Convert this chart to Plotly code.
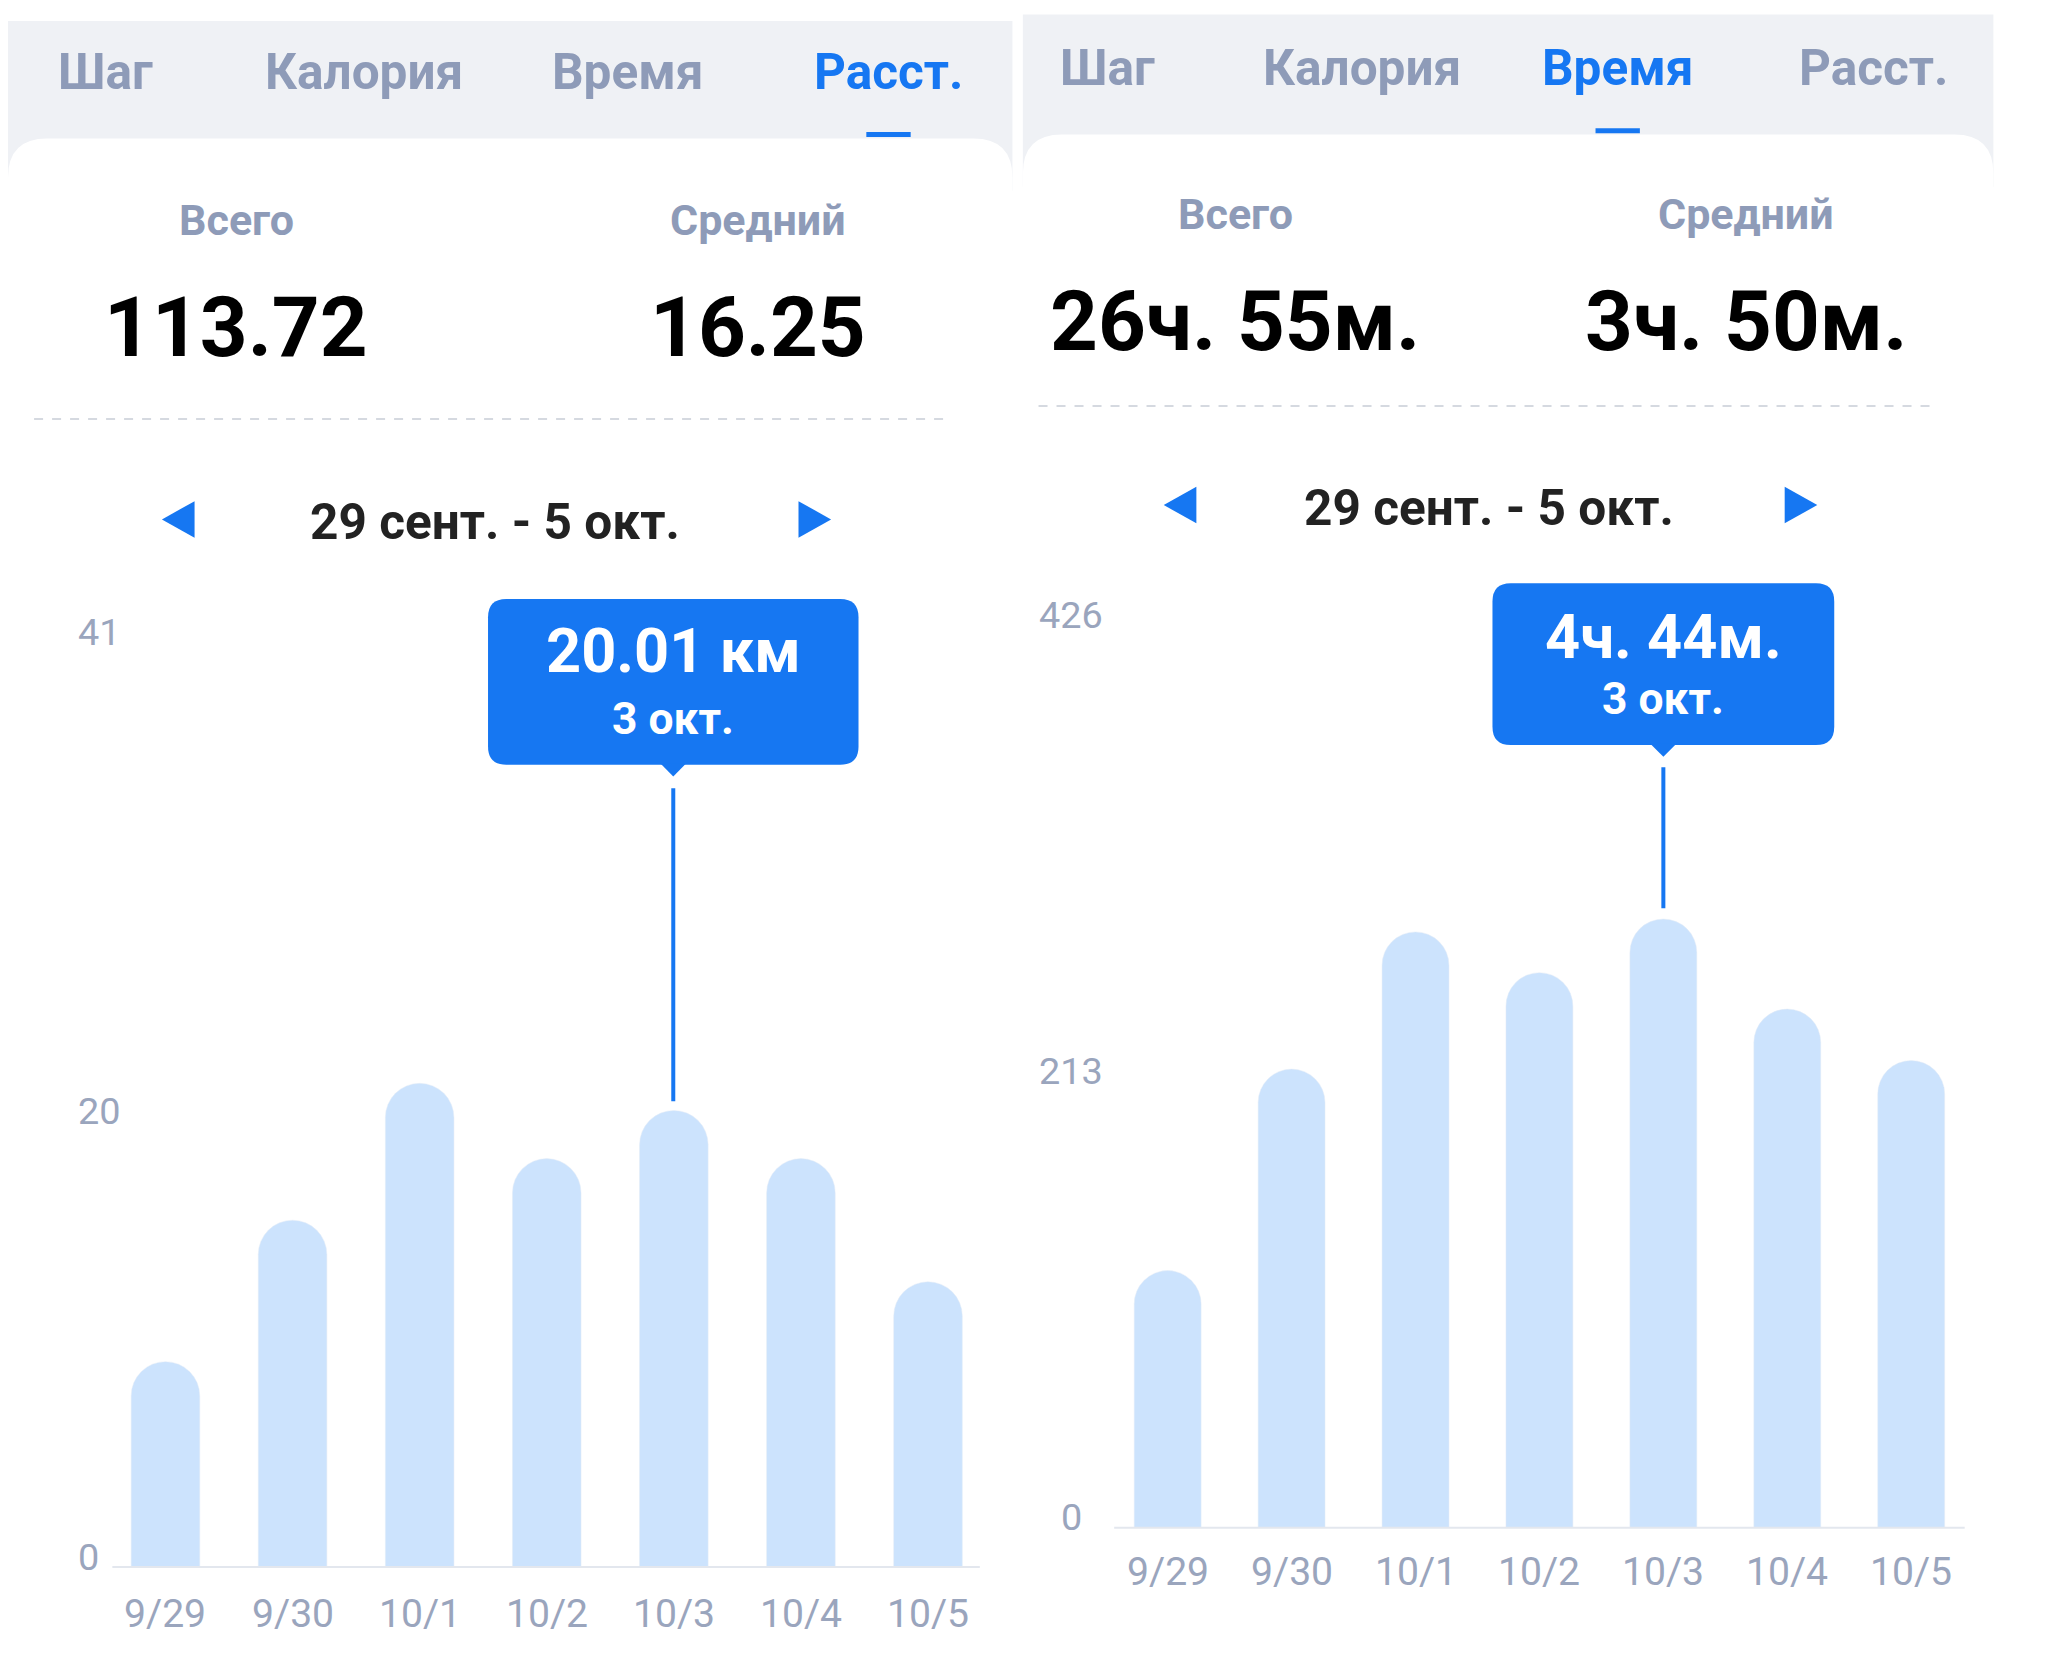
import plotly.graph_objects as go

days = ["9/29", "9/30", "10/1", "10/2", "10/3", "10/4", "10/5"]
dist_km = [9.0, 15.2, 21.2, 17.9, 20.01, 17.9, 12.5]
time_min = [120, 214, 278, 259, 284, 242, 218]
tabs = ["Шаг", "Калория", "Время", "Расст."]

W, H = 1570.0, 1287.0  # layout sketched in these units, scaled to the page
BLUE = "#1677f2"
BAR = "#cce3fd"
GRAY = "#8e9bb8"
TICK = "#9aa5bd"
FONT = "Roboto"
S = 2048 / W


def px(x, y):
    return x / W, 1 - y / H


def rrect(x0, y0, x1, y1, r, top_only=False):
    # rounded rectangle path in paper coords
    def p(x, y):
        a, b = px(x, y)
        return f"{a:.5f},{b:.5f}"
    rb = 0 if top_only else r
    return (f"M{p(x0, y0 + r)} Q{p(x0, y0)} {p(x0 + r, y0)} L{p(x1 - r, y0)} "
            f"Q{p(x1, y0)} {p(x1, y0 + r)} L{p(x1, y1 - rb)} Q{p(x1, y1)} {p(x1 - rb, y1)} "
            f"L{p(x0 + rb, y1)} Q{p(x0, y1)} {p(x0, y1 - rb)} Z")


def tri(pts):
    return "M" + " L".join("%.5f,%.5f" % px(x, y) for x, y in pts) + " Z"


fig = go.Figure()
fig.add_trace(go.Bar(x=days, y=dist_km, marker=dict(color=BAR, cornerradius="50%"),
                     width=0.54, xaxis="x", yaxis="y", hoverinfo="skip"))
fig.add_trace(go.Bar(x=days, y=time_min, marker=dict(color=BAR, cornerradius="50%"),
                     width=0.54, xaxis="x2", yaxis="y2", hoverinfo="skip"))

shapes, ann = [], []


def text(x, y, t, size, color, bold=False, xref="paper", yref="paper"):
    if xref == "paper":
        x = x / W
    if yref == "paper":
        y = 1 - y / H
    ann.append(dict(x=x, y=y, xref=xref, yref=yref, text=t, showarrow=False,
                    font=dict(family=FONT, size=size * S, color=color,
                              weight="bold" if bold else "normal"),
                    xanchor="center", yanchor="middle"))


panels = [
    dict(x0=0, x1=770, tabs_y=49, tab_x=[75, 273, 475, 675], active=3, top=10, card=100,
         lab_y=163, val_y=245, lab_x=[175, 575], vals=["113.72", "16.25"], dash_y=315,
         dash=(20, 722), nav_y=392, nav=(130, 618, 373), ax="x", ay="y",
         xd=(72, 754), yd=(1195, 478), yr=41, ticks=[(41, "41"), (20, "20"), (0, "0")],
         tick_x=52, base=(80, 745), xl_y=1250, sel=4, box=(368, 453, 652, 580),
         tip=["20.01 км", "3 окт."], tip_y=(493, 545), line=(598, 838)),
    dict(x0=778, x1=1522, tabs_y=46, tab_x=[843, 1038, 1234, 1430], active=2, top=5, card=97,
         lab_y=158, val_y=240, lab_x=[941, 1332], vals=["26ч. 55м.", "3ч. 50м."], dash_y=305,
         dash=(790, 1475), nav_y=381, nav=(898, 1374, 1135), ax="x2", ay="y2",
         xd=(841.5, 1506.5), yd=(1165, 465), yr=426, ticks=[(426, "426"), (213, "213"), (0, "0")],
         tick_x=815, base=(848, 1500), xl_y=1218, sel=4, box=(1138, 441, 1400, 565),
         tip=["4ч. 44м.", "3 окт."], tip_y=(482, 530), line=(582, 690)),
]

layout_axes = {}
for i, p in enumerate(panels):
    # tab bar and card
    x0, y0 = px(p["x0"], p["top"])
    x1, y1 = px(p["x1"], p["card"] + 40)
    shapes.append(dict(type="rect", xref="paper", yref="paper", x0=x0, y0=y1, x1=x1, y1=y0,
                       fillcolor="#eff1f5", line_width=0, layer="below"))
    shapes.append(dict(type="path", xref="paper", yref="paper", layer="below",
                       path=rrect(p["x0"], p["card"], p["x1"], H + 50, 30, top_only=True),
                       fillcolor="white", line_width=0))
    for k, (t, tx) in enumerate(zip(tabs, p["tab_x"])):
        text(tx, p["tabs_y"], t, 38, BLUE if k == p["active"] else GRAY, True)
    ux = p["tab_x"][p["active"]]
    shapes.append(dict(type="line", xref="paper", yref="paper",
                       x0=(ux - 17) / W, x1=(ux + 17) / W,
                       y0=1 - (p["card"] - 3) / H, y1=1 - (p["card"] - 3) / H,
                       line=dict(color=BLUE, width=5)))
    for lx, v, lab in zip(p["lab_x"], p["vals"], ["Всего", "Средний"]):
        text(lx, p["lab_y"], lab, 33, GRAY, True)
        text(lx, p["val_y"], v, 64, "black", True)
    shapes.append(dict(type="line", xref="paper", yref="paper",
                       x0=p["dash"][0] / W, x1=p["dash"][1] / W,
                       y0=1 - p["dash_y"] / H, y1=1 - p["dash_y"] / H,
                       line=dict(color="#d5d9e0", width=2, dash="dash")))
    lx, rx, cx = p["nav"]
    ny = p["nav_y"]
    shapes.append(dict(type="path", xref="paper", yref="paper", fillcolor=BLUE, line_width=0,
                       path=tri([(lx - 12, ny), (lx + 13, ny - 14), (lx + 13, ny + 14)])))
    shapes.append(dict(type="path", xref="paper", yref="paper", fillcolor=BLUE, line_width=0,
                       path=tri([(rx - 12, ny - 14), (rx - 12, ny + 14), (rx + 13, ny)])))
    text(cx, ny + 2, "29 сент. - 5 окт.", 38, "#222222", True)

    # axes
    sfx = "" if i == 0 else "2"
    layout_axes["xaxis" + sfx] = dict(domain=[p["xd"][0] / W, p["xd"][1] / W], range=[-0.5, 6.5],
                                      visible=False, anchor=p["ay"], fixedrange=True)
    layout_axes["yaxis" + sfx] = dict(domain=[1 - p["yd"][0] / H, 1 - p["yd"][1] / H],
                                      range=[0, p["yr"]], visible=False, anchor=p["ax"])
    for v, t in p["ticks"]:
        ann.append(dict(x=p["tick_x"] / W, y=v, xref="paper", yref=p["ay"], text=t,
                        showarrow=False, yshift=8 * S if v == 0 else 0,
                        font=dict(family=FONT, size=29 * S, color=TICK)))
    by = 1 - p["yd"][0] / H
    shapes.append(dict(type="line", xref="paper", yref="paper", x0=p["base"][0] / W,
                       x1=p["base"][1] / W, y0=by, y1=by, line=dict(color="#e3e7ee", width=2)))
    for d in days:
        ann.append(dict(x=d, y=1 - p["xl_y"] / H, xref=p["ax"], yref="paper", text=d,
                        showarrow=False, font=dict(family=FONT, size=30 * S, color=TICK)))

    # tooltip
    bx0, by0, bx1, by1 = p["box"]
    mid = (bx0 + bx1) / 2
    shapes.append(dict(type="path", xref="paper", yref="paper", fillcolor=BLUE, line_width=0,
                       path=rrect(bx0, by0, bx1, by1, 14)))
    shapes.append(dict(type="path", xref="paper", yref="paper", fillcolor=BLUE, line_width=0,
                       path=tri([(mid - 10, by1 - 1), (mid + 10, by1 - 1), (mid, by1 + 9)])))
    shapes.append(dict(type="line", xref="paper", yref="paper", x0=mid / W, x1=mid / W,
                       y0=1 - p["line"][0] / H, y1=1 - p["line"][1] / H,
                       line=dict(color=BLUE, width=4)))
    text(mid, p["tip_y"][0], p["tip"][0], 47, "white", True)
    text(mid, p["tip_y"][1], p["tip"][1], 34, "white", True)

fig.update_layout(width=2048, height=1679, margin=dict(l=0, r=0, t=0, b=0),
                  paper_bgcolor="white", plot_bgcolor="rgba(0,0,0,0)", showlegend=False,
                  shapes=shapes, annotations=ann, **layout_axes)
fig.write_html("out.html")
